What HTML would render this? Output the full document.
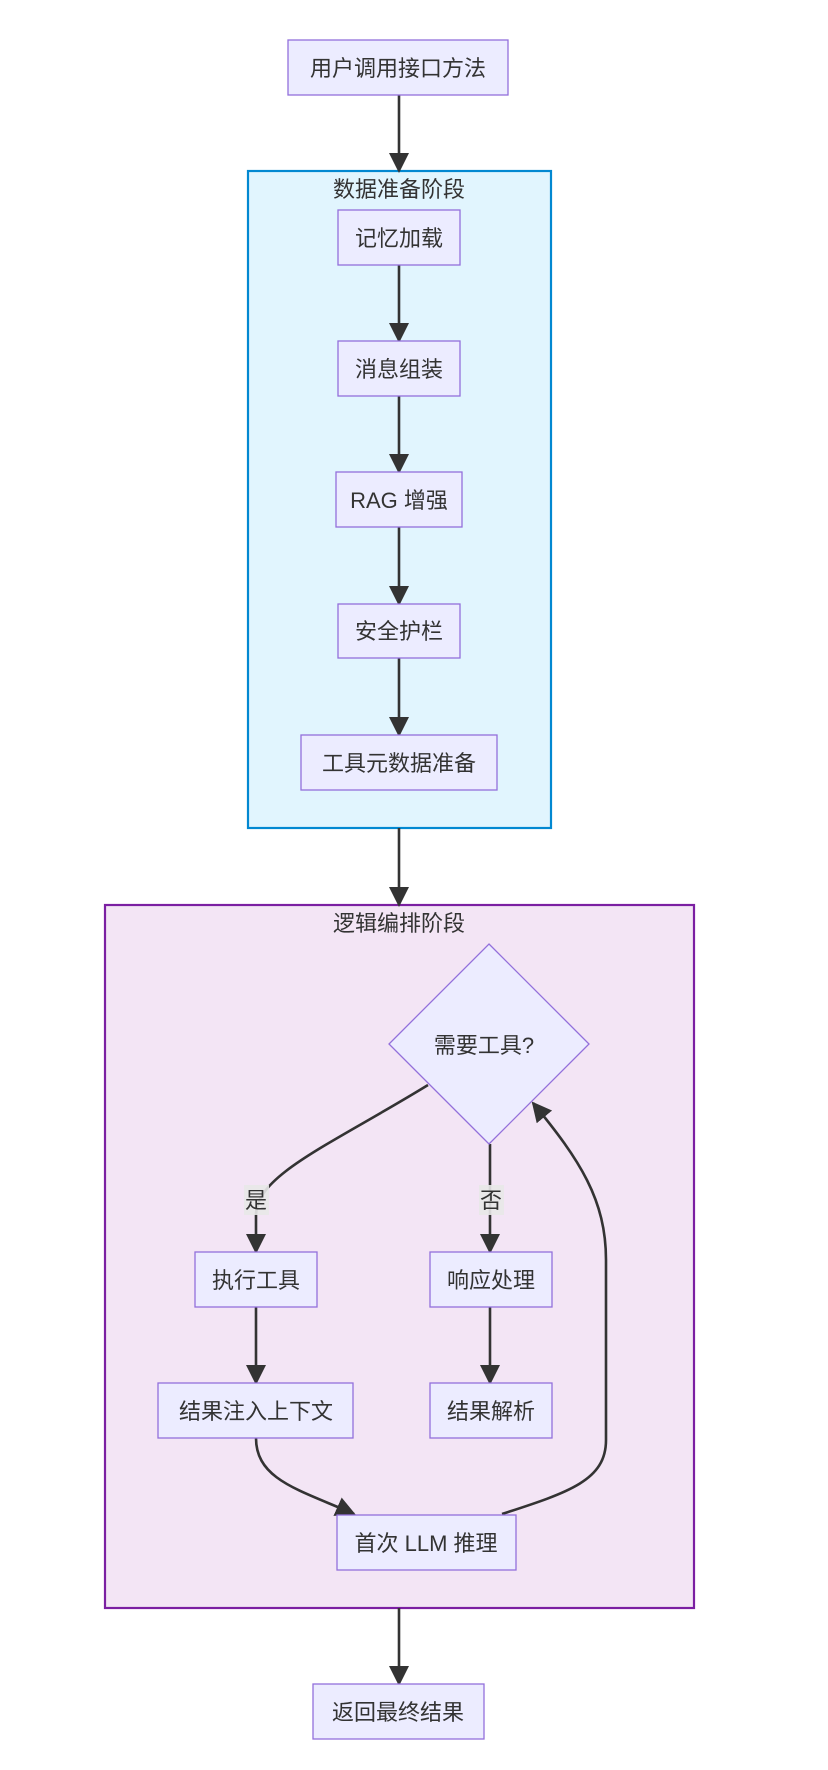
<!DOCTYPE html>
<html><head><meta charset="utf-8"><style>
html,body{margin:0;padding:0;background:#fff;}
svg{display:block}
text{font-family:"Liberation Sans","Noto Sans CJK SC",sans-serif;fill:#333;font-size:22px;}
.n{fill:#ECECFF;stroke:#9370DB;stroke-width:1.3}
.e{fill:none;stroke:#333;stroke-width:2.6}
</style></head><body>
<svg width="828" height="1770" viewBox="0 0 828 1770" xmlns="http://www.w3.org/2000/svg">
<defs><marker id="b" viewBox="0 0 10 10" refX="9" refY="5" markerWidth="20" markerHeight="20" orient="auto" markerUnits="userSpaceOnUse"><path d="M0,0 L10,5 L0,10z" fill="#333"/></marker></defs>
<rect x="248" y="171" width="303" height="657" fill="#E1F5FE" stroke="#0288D1" stroke-width="2.2"/>
<rect x="105" y="905" width="589" height="703" fill="#F3E5F5" stroke="#7B1FA2" stroke-width="2.2"/>
<text x="399" y="197" text-anchor="middle">数据准备阶段</text>
<text x="399" y="931" text-anchor="middle">逻辑编排阶段</text>
<g class="e" marker-end="url(#b)">
<path d="M399,95 V171"/><path d="M399,265 V341"/><path d="M399,396 V472"/><path d="M399,527 V604"/><path d="M399,658 V735"/><path d="M399,828 V905"/><path d="M399,1608 V1684"/>
<path d="M428,1085 C330,1145 256,1175 256,1215 V1252"/>
<path d="M490,1144 V1252"/><path d="M490,1307 V1383"/><path d="M256,1307 V1383"/>
<path d="M256,1438 C256,1480 300,1490 354,1514"/>
<path d="M502,1514 C570,1492 606,1480 606,1440 V1260 C606,1200 580,1160 533,1103"/>
</g>
<rect x="244" y="1185" width="25" height="30" fill="#e8e8e8" opacity="0.9"/>
<text x="256" y="1208" text-anchor="middle">是</text>
<rect x="479" y="1185" width="25" height="30" fill="#e8e8e8" opacity="0.9"/>
<text x="491" y="1208" text-anchor="middle">否</text>
<g>
<rect class="n" x="288" y="40" width="220" height="55"/><text x="398" y="76" text-anchor="middle">用户调用接口方法</text>
<rect class="n" x="338" y="210" width="122" height="55"/><text x="399" y="246" text-anchor="middle">记忆加载</text>
<rect class="n" x="338" y="341" width="122" height="55"/><text x="399" y="377" text-anchor="middle">消息组装</text>
<rect class="n" x="336" y="472" width="126" height="55"/><text x="399" y="508" text-anchor="middle">RAG 增强</text>
<rect class="n" x="338" y="604" width="122" height="54"/><text x="399" y="639" text-anchor="middle">安全护栏</text>
<rect class="n" x="301" y="735" width="196" height="55"/><text x="399" y="771" text-anchor="middle">工具元数据准备</text>
<polygon class="n" points="489,944 589,1044 489,1144 389,1044"/><text x="484" y="1053" text-anchor="middle">需要工具?</text>
<rect class="n" x="195" y="1252" width="122" height="55"/><text x="256" y="1288" text-anchor="middle">执行工具</text>
<rect class="n" x="430" y="1252" width="122" height="55"/><text x="491" y="1288" text-anchor="middle">响应处理</text>
<rect class="n" x="158" y="1383" width="195" height="55"/><text x="256" y="1419" text-anchor="middle">结果注入上下文</text>
<rect class="n" x="430" y="1383" width="122" height="55"/><text x="491" y="1419" text-anchor="middle">结果解析</text>
<rect class="n" x="337" y="1515" width="179" height="55"/><text x="426" y="1551" text-anchor="middle">首次 LLM 推理</text>
<rect class="n" x="313" y="1684" width="171" height="55"/><text x="398" y="1720" text-anchor="middle">返回最终结果</text>
</g>
</svg>
</body></html>
